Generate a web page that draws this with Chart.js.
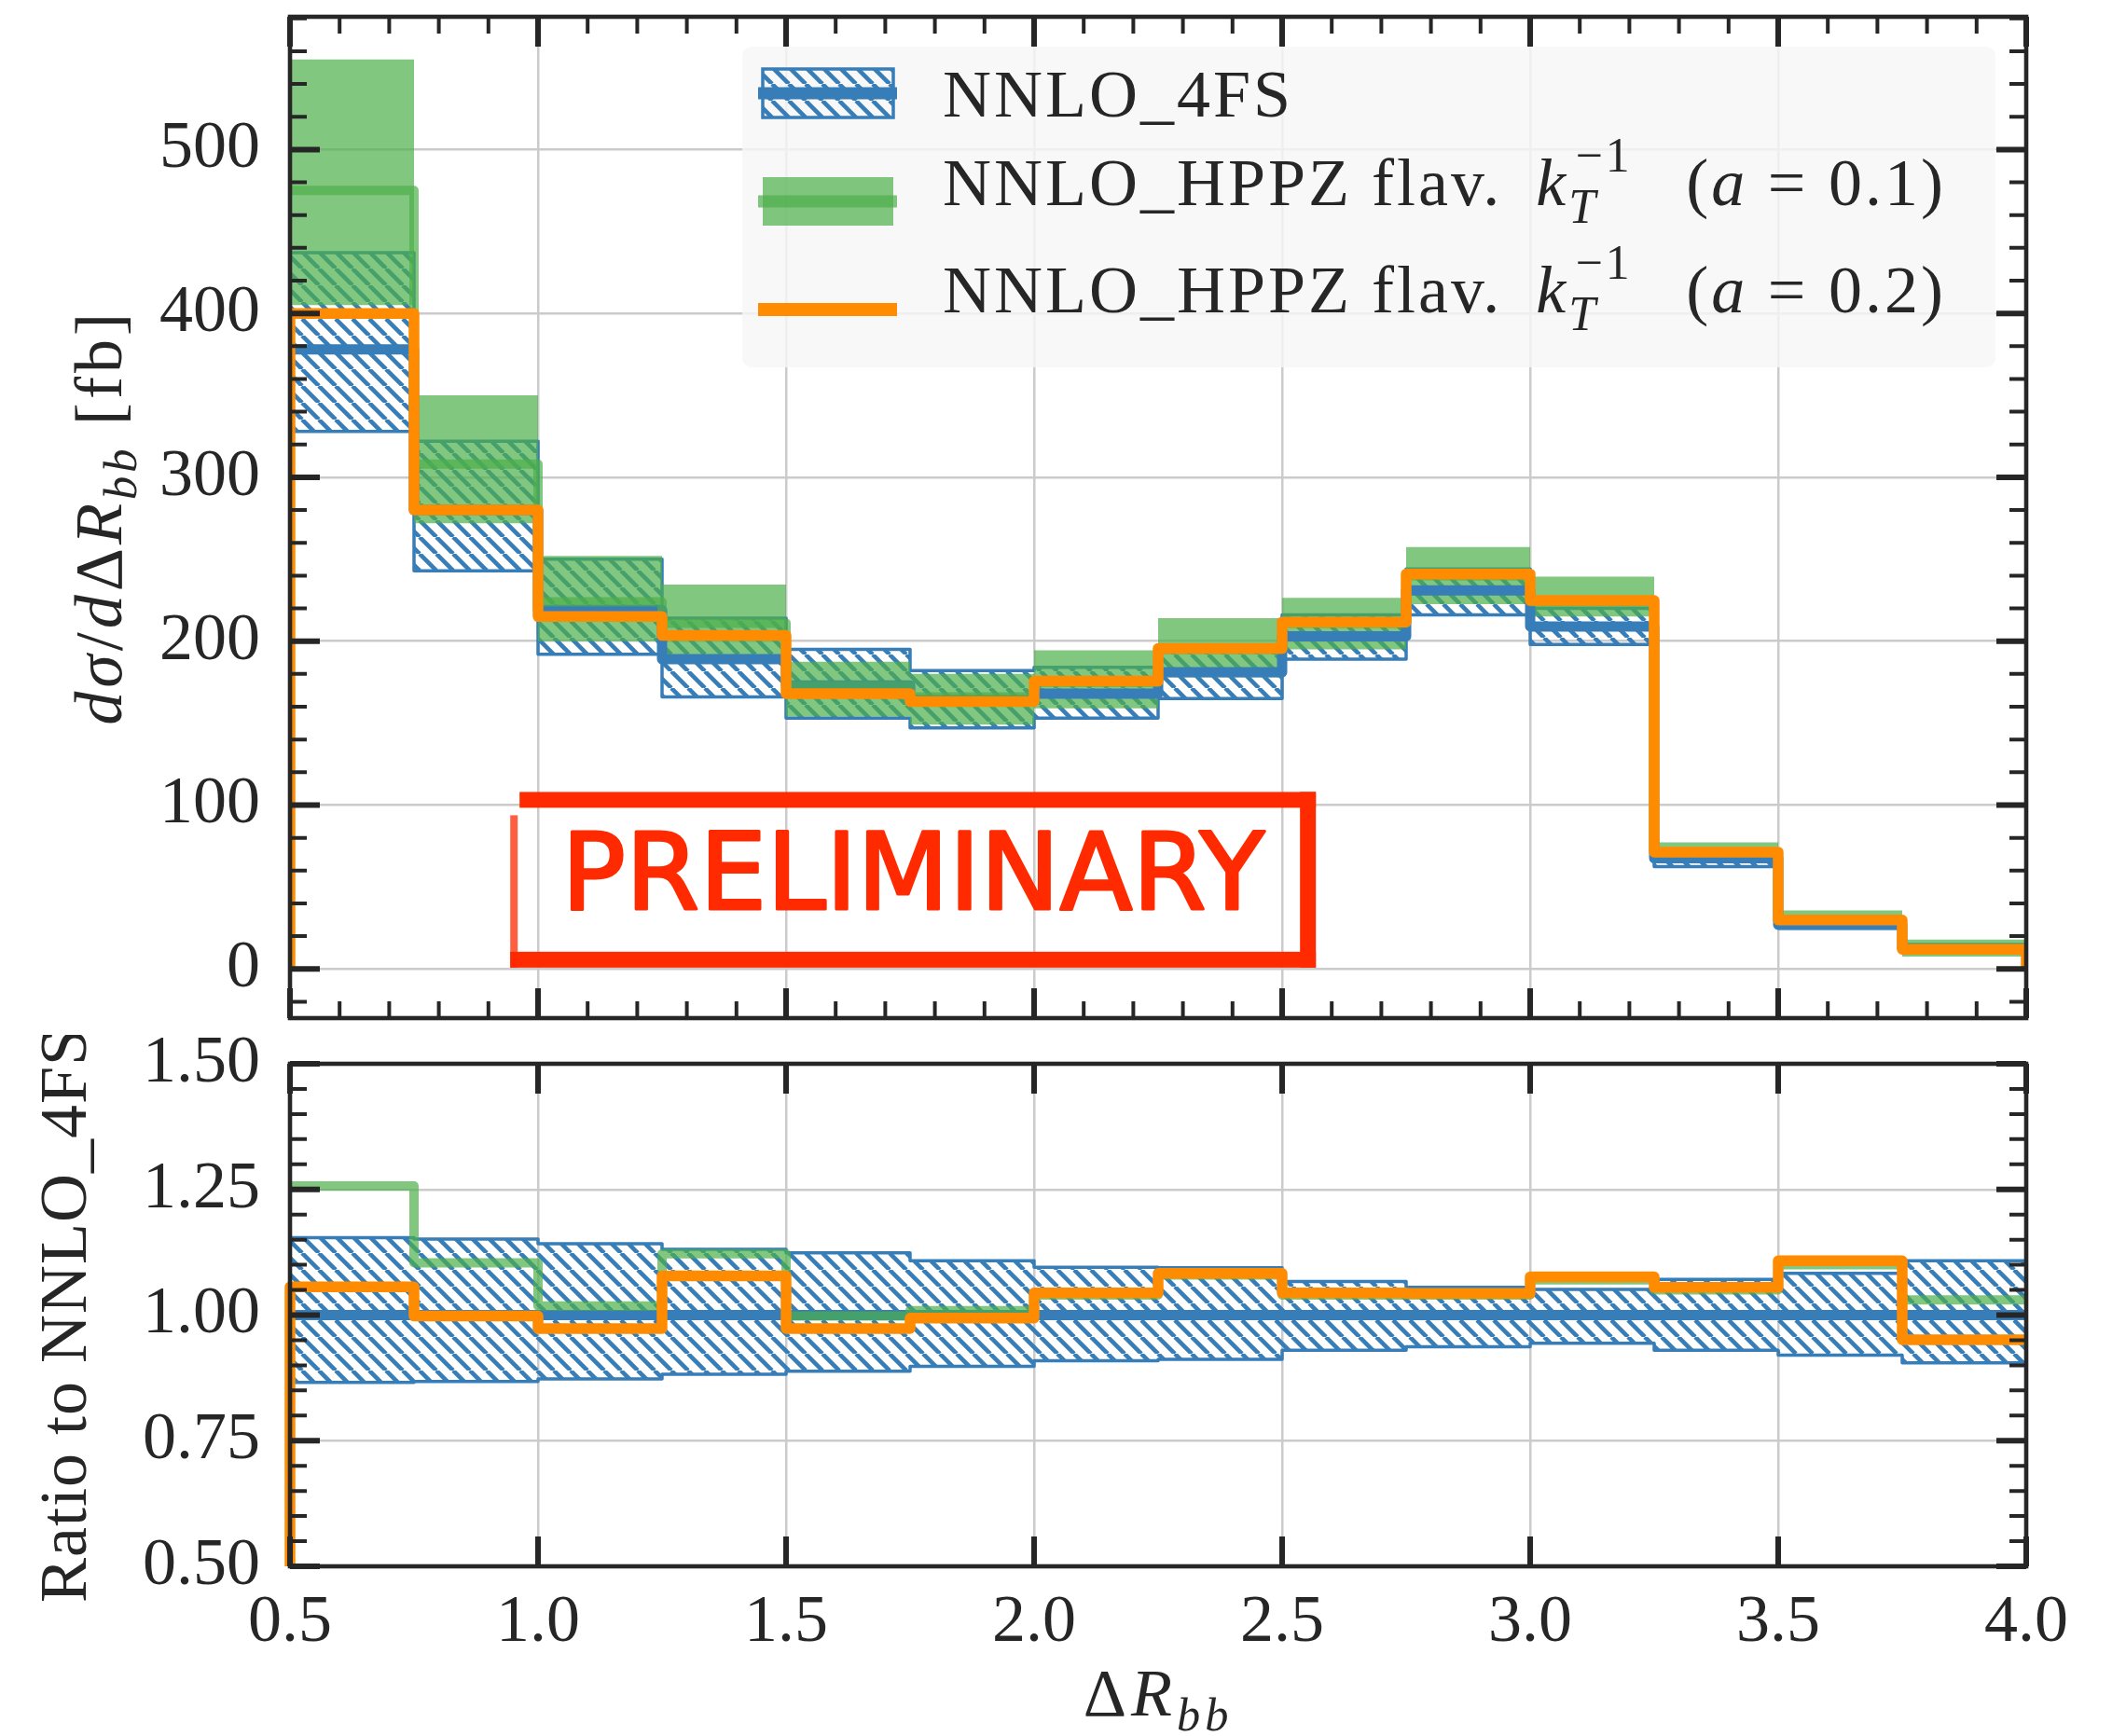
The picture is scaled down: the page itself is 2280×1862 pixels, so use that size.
<!DOCTYPE html>
<html>
<head>
<meta charset="utf-8">
<script src="https://cdn.jsdelivr.net/npm/chart.js@4.4.1/dist/chart.umd.min.js"></script>
<style>
  html, body { margin: 0; padding: 0; background: #fff; }
  #wrap { position: relative; width: 2280px; height: 1862px; }
  canvas { position: absolute; left: 0; }
  #top { top: 0; }
  #ratio { top: 1110px; }
</style>
</head>
<body>
<div id="wrap">
  <canvas id="top" width="2280" height="1110"></canvas>
  <canvas id="ratio" width="2280" height="752"></canvas>
</div>
<script>
// bin edges of the Delta R_bb histogram
var binEdges = [0.5, 0.75, 1.0, 1.25, 1.5, 1.75, 2.0, 2.25, 2.5, 2.75, 3.0, 3.25, 3.5, 3.75, 4.0];

// top panel, d sigma / d Delta R_bb [fb]
var nnlo4fs     = [378, 280, 219, 189, 173, 164, 168, 181, 203, 231, 209, 67.5, 27, 12.6];
var nnlo4fsLow  = [328, 243, 192, 166, 153, 147, 153, 165, 189, 216, 198, 62.5, 24.8, 11.4];
var nnlo4fsHigh = [437, 322, 250, 214, 195, 182, 184, 197, 216, 244, 220, 72.5, 29.3, 14];
var hppzA1      = [475, 308, 224, 211, 173, 166, 175, 195, 211, 240, 224, 71, 30, 13];
var hppzA1Low   = [405, 272, 200, 191, 154, 149, 159, 178, 195, 222.6, 215, 68, 27, 7.5];
var hppzA1High  = [555, 350, 252, 234.5, 187.5, 180, 194.5, 214, 226.4, 257.5, 239.4, 77.3, 35.7, 17.9];
var hppzA2      = [400, 280, 215, 203.5, 168, 163.2, 175.6, 195.5, 211.7, 241, 224.8, 71.3, 29.9, 12];

// bottom panel, ratio to NNLO_4FS
var ratioRef  = [1, 1, 1, 1, 1, 1, 1, 1, 1, 1, 1, 1, 1, 1];
var ratioLow  = [0.866, 0.868, 0.873, 0.882, 0.888, 0.898, 0.909, 0.912, 0.930, 0.937, 0.944, 0.930, 0.920, 0.905];
var ratioHigh = [1.154, 1.151, 1.142, 1.131, 1.124, 1.108, 1.095, 1.094, 1.067, 1.055, 1.051, 1.071, 1.083, 1.108];
var ratioA1   = [1.257, 1.104, 1.018, 1.122, 0.998, 1.009, 1.04, 1.08, 1.04, 1.04, 1.07, 1.05, 1.10, 1.03];
var ratioA2   = [1.056, 0.998, 0.973, 1.078, 0.973, 0.994, 1.044, 1.083, 1.044, 1.043, 1.076, 1.055, 1.108, 0.951];

// tick labels
var xTicks = [0.5, 1.0, 1.5, 2.0, 2.5, 3.0, 3.5, 4.0];
var topTicks = [0, 100, 200, 300, 400, 500];
var ratioTicks = [0.5, 0.75, 1.0, 1.25, 1.5];

var INK = '#262626';
var BLUE = '#377eb8';
var GREEN = 'rgba(77,175,74,0.7)';
var ORANGE = '#ff8c00';
var GRID = '#cbcbcb';
var SERIF = '"Liberation Serif", "Times New Roman", serif';

Chart.defaults.animation = false;
Chart.defaults.font.family = SERIF;
Chart.defaults.color = INK;

function hatch(color) {
    var c = document.createElement('canvas');
    c.width = c.height = 18;
    var g = c.getContext('2d');
    g.strokeStyle = color;
    g.lineWidth = 4.6;
    g.beginPath();
    for (var k = -1; k <= 1; k++) {
        g.moveTo(k * 18, 0);
        g.lineTo(k * 18 + 18, 18);
    }
    g.stroke();
    return g.createPattern(c, 'repeat');
}

// histogram outline: one point per left edge, last value repeated at the right edge
function steps(vals) {
    var pts = vals.map(function (v, i) { return { x: binEdges[i], y: v }; });
    pts.push({ x: binEdges[vals.length], y: vals[vals.length - 1] });
    return pts;
}
function closedSteps(vals, both) {
    var pts = steps(vals);
    pts.unshift({ x: binEdges[0], y: 0 });
    if (both) pts.push({ x: binEdges[binEdges.length - 1], y: 0 });
    return pts;
}

function line(data, color, width, order, extra) {
    var ds = {
        data: data, borderColor: color, borderWidth: width, backgroundColor: color,
        stepped: 'before', pointRadius: 0, pointHoverRadius: 0, fill: false,
        borderJoinStyle: 'round', order: order
    };
    for (var k in extra) ds[k] = extra[k];
    return ds;
}

function setFont(ctx, italic, size) {
    ctx.font = (italic ? 'italic ' : '') + size + 'px ' + SERIF;
}

// small rich text: runs of {t, it, sub} / {gap} / {ss: [sub, sup]}
function richText(ctx, runs, x, y, size, draw) {
    var cx = x;
    runs.forEach(function (r) {
        if (r.gap) { cx += r.gap * size; return; }
        if (r.ss) {
            var s = size * 0.72;
            setFont(ctx, true, s);
            var w1 = ctx.measureText(r.ss[0]).width;
            if (draw) ctx.fillText(r.ss[0], cx, y + 0.27 * size);
            setFont(ctx, false, s);
            var w2 = ctx.measureText(r.ss[1]).width;
            if (draw) ctx.fillText(r.ss[1], cx + 0.1 * size, y - 0.5 * size);
            cx += Math.max(w1, w2 + 0.1 * size);
            return;
        }
        var sz = r.sub ? size * 0.7 : size;
        setFont(ctx, r.it, sz);
        if (draw) ctx.fillText(r.t, cx, y + (r.sub ? 0.22 * size : 0));
        cx += ctx.measureText(r.t).width;
    });
    return cx - x;
}
function richCentered(ctx, runs, cx, y, size, spacing) {
    ctx.letterSpacing = spacing || '0px';
    var w = richText(ctx, runs, 0, 0, size, false);
    richText(ctx, runs, cx - w / 2, y, size, true);
    ctx.letterSpacing = '0px';
}

function isMajor(v, list) {
    return list.some(function (m) { return Math.abs(m - v) < 1e-9; });
}

// frame with inward ticks on all four sides
function framePlugin(xMinor, yMinor, yMajors) {
    return {
        id: 'frame',
        afterDraw: function (chart) {
            var a = chart.chartArea, ctx = chart.ctx;
            var xs = chart.scales.x, ys = chart.scales.y;
            ctx.save();
            ctx.strokeStyle = INK;
            ctx.lineCap = 'butt';
            function tx(v, len, w) {
                var p = xs.getPixelForValue(v);
                ctx.lineWidth = w;
                ctx.beginPath();
                ctx.moveTo(p, a.bottom); ctx.lineTo(p, a.bottom - len);
                ctx.moveTo(p, a.top); ctx.lineTo(p, a.top + len);
                ctx.stroke();
            }
            function ty(v, len, w) {
                var p = ys.getPixelForValue(v);
                ctx.lineWidth = w;
                ctx.beginPath();
                ctx.moveTo(a.left, p); ctx.lineTo(a.left + len, p);
                ctx.moveTo(a.right, p); ctx.lineTo(a.right - len, p);
                ctx.stroke();
            }
            var k, v;
            if (xMinor) {
                for (k = Math.ceil(xs.min / xMinor - 1e-9); k * xMinor <= xs.max + 1e-9; k++) {
                    v = Math.round(k * xMinor * 1000) / 1000;
                    if (!isMajor(v, xTicks)) tx(v, 18, 4);
                }
            }
            for (k = Math.ceil(ys.min / yMinor - 1e-9); k * yMinor <= ys.max + 1e-9; k++) {
                v = Math.round(k * yMinor * 1000) / 1000;
                if (!isMajor(v, yMajors)) ty(v, 18, 4);
            }
            xTicks.forEach(function (v) { tx(v, 32, 6); });
            yMajors.forEach(function (v) { ty(v, 32, 6); });
            ctx.lineWidth = 4.6;
            ctx.strokeRect(a.left, a.top, a.right - a.left, a.bottom - a.top);
            ctx.restore();
        }
    };
}

function kRuns(a) {
    return [{ t: 'NNLO_HPPZ flav.' }, { gap: 0.5 }, { t: 'k', it: true }, { ss: ['T', '\u22121'] },
        { gap: 0.8 }, { t: '(' }, { t: 'a', it: true }, { gap: 0.3 }, { t: '=' }, { gap: 0.3 }, { t: a + ')' }];
}
var legendRows = [
    { kind: 'ref', runs: [{ t: 'NNLO_4FS' }] },
    { kind: 'a1', runs: kRuns('0.1') },
    { kind: 'a2', runs: kRuns('0.2') }
];

var legendPlugin = {
    id: 'texLegend',
    afterDatasetsDraw: function (chart) {
        var a = chart.chartArea, ctx = chart.ctx;
        var L = a.left + 485, T = a.top + 32;
        ctx.save();
        ctx.fillStyle = 'rgba(247,247,247,0.82)';
        ctx.beginPath();
        ctx.roundRect(L, T, 1344, 344, 10);
        ctx.fill();
        var handleY = [50, 166, 282], textY = [75, 170, 285];
        legendRows.forEach(function (row, i) {
            var cy = T + handleY[i];
            if (row.kind === 'ref') {
                ctx.fillStyle = hatchBlue;
                ctx.fillRect(L + 22, cy - 26, 140, 52);
                ctx.strokeStyle = BLUE; ctx.lineWidth = 3.5;
                ctx.strokeRect(L + 22, cy - 26, 140, 52);
                ctx.fillStyle = BLUE;
                ctx.fillRect(L + 17, cy - 6.5, 149, 13);
            } else if (row.kind === 'a1') {
                ctx.fillStyle = GREEN;
                ctx.fillRect(L + 22, cy - 26, 140, 52);
                ctx.fillRect(L + 17, cy - 6.5, 149, 13);
            } else {
                ctx.fillStyle = ORANGE;
                ctx.fillRect(L + 17, cy - 7, 149, 14);
            }
            ctx.fillStyle = INK;
            ctx.textBaseline = 'alphabetic';
            ctx.textAlign = 'left';
            ctx.letterSpacing = '3px';
            richText(ctx, row.runs, L + 215, T + textY[i], 72, true);
            ctx.letterSpacing = '0px';
        });
        ctx.restore();
    }
};

// "PRELIMINARY" stamp, placed in data coordinates of the upper panel
var stampBox = { x0: 0.944, x1: 2.568, y0: 0.8, y1: 108 };
var stampPlugin = {
    id: 'stamp',
    afterDatasetsDraw: function (chart) {
        var ctx = chart.ctx, xs = chart.scales.x, ys = chart.scales.y;
        var x0 = xs.getPixelForValue(stampBox.x0), x1 = xs.getPixelForValue(stampBox.x1);
        var y0 = ys.getPixelForValue(stampBox.y1), y1 = ys.getPixelForValue(stampBox.y0);
        ctx.save();
        ctx.fillStyle = '#ff2a00';
        ctx.strokeStyle = '#ff2a00';
        ctx.fillRect(x0 + 10, y0, x1 - x0 - 10, 17);
        ctx.fillRect(x1 - 17, y0, 17, y1 - y0);
        ctx.fillRect(x0, y1 - 17, x1 - x0, 17);
        ctx.globalAlpha = 0.75;
        ctx.fillRect(x0, y0 + 25, 8, y1 - y0 - 25);
        ctx.globalAlpha = 1;
        ctx.font = '114px "DejaVu Sans", sans-serif';
        ctx.textAlign = 'center';
        ctx.textBaseline = 'middle';
        ctx.lineWidth = 3;
        ctx.lineJoin = 'round';
        ctx.fillText('PRELIMINARY', (x0 + x1) / 2, (y0 + y1) / 2 + 2, 800);
        ctx.strokeText('PRELIMINARY', (x0 + x1) / 2, (y0 + y1) / 2 + 2, 800);
        ctx.restore();
    }
};

function titlesPlugin(yRuns, yOffset, ySpacing, xTitle) {
    return {
        id: 'titles',
        afterDraw: function (chart) {
            var a = chart.chartArea, ctx = chart.ctx;
            ctx.save();
            ctx.fillStyle = INK;
            ctx.textAlign = 'left';
            ctx.textBaseline = 'alphabetic';
            ctx.translate(a.left - yOffset, (a.top + a.bottom) / 2);
            ctx.rotate(-Math.PI / 2);
            richCentered(ctx, yRuns, 0, 0, 72, ySpacing);
            ctx.restore();
            if (xTitle) {
                ctx.save();
                ctx.fillStyle = INK;
                ctx.textAlign = 'left';
                richCentered(ctx, xTitle, (a.left + a.right) / 2, a.bottom + 160, 72, '5px');
                ctx.restore();
            }
        }
    };
}

var hatchBlue = hatch(BLUE);

function axisY(min, max, ticks, fmt) {
    return {
        type: 'linear', min: min, max: max,
        afterBuildTicks: function (s) { s.ticks = ticks.map(function (v) { return { value: v }; }); },
        afterFit: function (s) { s.width = 311; s.paddingTop = 0; s.paddingBottom = 0; },
        ticks: { autoSkip: false, padding: 32, font: { size: 72 }, color: INK, callback: fmt },
        grid: { color: GRID, lineWidth: 2.5, drawTicks: false },
        border: { display: false }
    };
}
function axisX(showLabels, height) {
    return {
        type: 'linear', min: 0.5, max: 4.0,
        afterBuildTicks: function (s) { s.ticks = xTicks.map(function (v) { return { value: v }; }); },
        afterFit: function (s) { s.height = height; s.paddingLeft = 0; s.paddingRight = 0; },
        ticks: { display: showLabels, autoSkip: false, maxRotation: 0, padding: 18, font: { size: 72 }, color: INK,
            callback: function (v) { return Number(v).toFixed(1); } },
        grid: { color: GRID, lineWidth: 2.5, drawTicks: false },
        border: { display: false }
    };
}

new Chart(document.getElementById('top'), {
    type: 'line',
    data: {
        datasets: [
            line(steps(nnlo4fsLow), BLUE, 3.5, 10),
            line(steps(nnlo4fsHigh), BLUE, 3.5, 9, { fill: '-1', backgroundColor: hatchBlue }),
            line(steps(hppzA1Low), 'rgba(0,0,0,0)', 0, 8),
            line(steps(hppzA1High), 'rgba(0,0,0,0)', 0, 7, { fill: '-1', backgroundColor: GREEN }),
            line(steps(nnlo4fs), BLUE, 11, 3),
            line(steps(hppzA1), GREEN, 10, 2),
            line(closedSteps(hppzA2, true), ORANGE, 11.5, 1)
        ]
    },
    options: {
        responsive: false,
        layout: { padding: { left: 0, top: 18, right: 107, bottom: 0 } },
        plugins: { legend: { display: false }, tooltip: { enabled: false } },
        scales: {
            x: axisX(false, 18),
            y: axisY(-30, 581, topTicks, function (v) { return String(v); })
        }
    },
    plugins: [stampPlugin, legendPlugin, framePlugin(0.1, 20, topTicks),
        titlesPlugin([{ t: 'd', it: true }, { t: '\u03c3', it: true }, { t: '/' }, { t: 'd', it: true }, { t: '\u0394' },
            { t: 'R', it: true }, { t: 'bb', it: true, sub: true }, { gap: 0.3 }, { t: '[fb]' }], 181, '4px', null)]
});

new Chart(document.getElementById('ratio'), {
    type: 'line',
    data: {
        datasets: [
            line(steps(ratioLow), BLUE, 3.5, 10),
            line(steps(ratioHigh), BLUE, 3.5, 9, { fill: '-1', backgroundColor: hatchBlue }),
            line(steps(ratioRef), BLUE, 11, 3),
            line(steps(ratioA1), GREEN, 10, 2),
            line(closedSteps(ratioA2, false), ORANGE, 11.5, 1, { clip: { left: 8, right: 8, top: 0, bottom: 0 } })
        ]
    },
    options: {
        responsive: false,
        layout: { padding: { left: 0, top: 31, right: 107, bottom: 0 } },
        plugins: { legend: { display: false }, tooltip: { enabled: false } },
        scales: {
            x: axisX(true, 182),
            y: axisY(0.5, 1.5, ratioTicks, function (v) { return Number(v).toFixed(2); })
        }
    },
    plugins: [framePlugin(null, 0.05, ratioTicks),
        titlesPlugin([{ t: 'Ratio to NNLO_4FS' }], 219, '1px',
            [{ t: '\u0394' }, { t: 'R', it: true }, { t: 'bb', it: true, sub: true }])]
});
</script>
</body>
</html>
